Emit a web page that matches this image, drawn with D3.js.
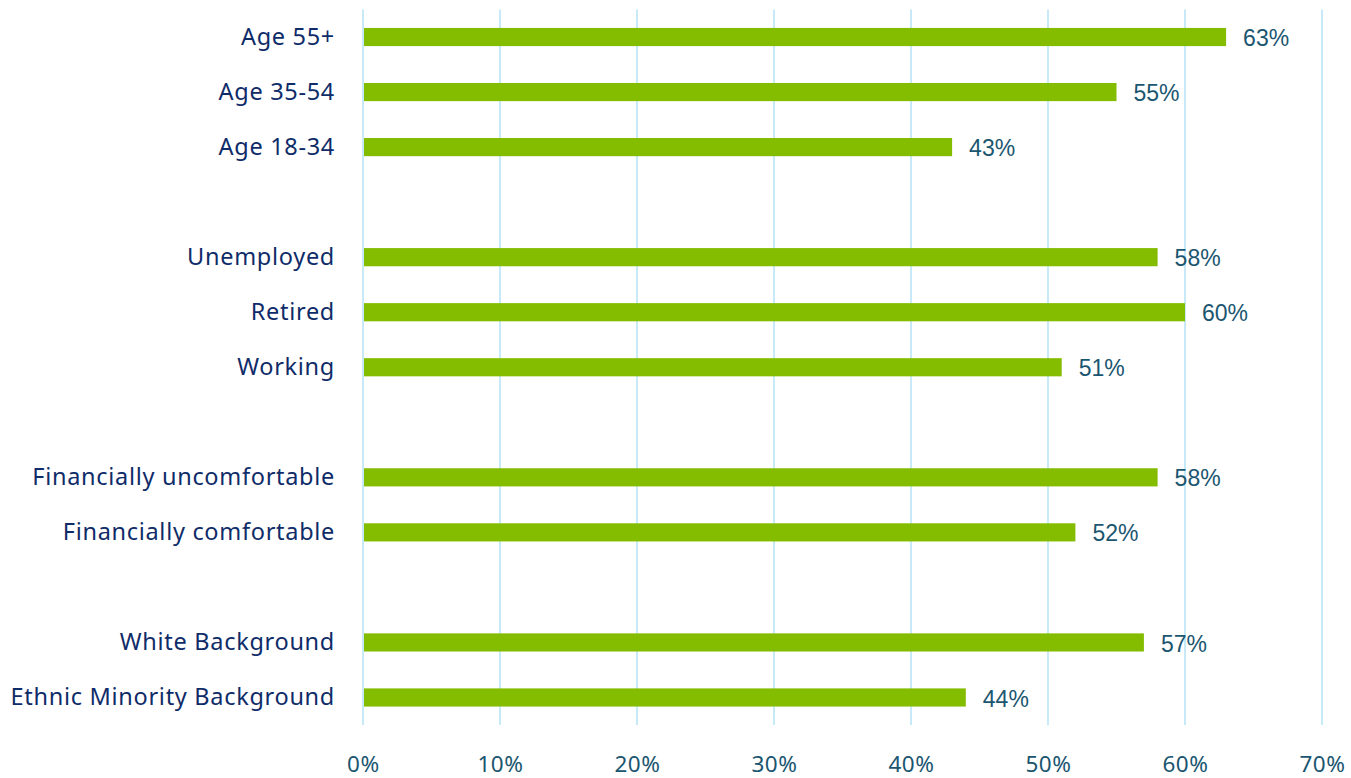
<!DOCTYPE html>
<html>
<head>
<meta charset="utf-8">
<script src="https://cdn.jsdelivr.net/npm/d3@7/dist/d3.min.js"></script>
<style>
  html, body { margin: 0; padding: 0; background: #fff; }
  svg { display: block; }
</style>
</head>
<body>
<svg id="chart" width="1351" height="778"></svg>
<script>
// Row labels, top to bottom; empty strings are spacer rows between groups
const categories = [
  "Age 55+", "Age 35-54", "Age 18-34", "",
  "Unemployed", "Retired", "Working", "",
  "Financially uncomfortable", "Financially comfortable", "",
  "White Background", "Ethnic Minority Background"
];
const values = [63, 55, 43, null, 58, 60, 51, null, 58, 52, null, 57, 44];
const tickValues = [0, 10, 20, 30, 40, 50, 60, 70];

const svg = d3.select("#chart");
const margin = { top: 9.5, left: 363, right: 29, bottom: 53 };
const W = 1351, H = 778;

const x = d3.scaleLinear().domain([0, 70]).range([margin.left, W - margin.right]);
const keys = categories.map((c, i) => i);
const y = d3.scaleBand().domain(keys).range([margin.top, H - margin.bottom]).paddingInner(0.67).paddingOuter(0.335);

// vertical gridlines
svg.append("g")
  .selectAll("line")
  .data(tickValues)
  .join("line")
  .attr("x1", d => x(d)).attr("x2", d => x(d))
  .attr("y1", margin.top).attr("y2", H - margin.bottom)
  .attr("stroke", "#c8eaf8").attr("stroke-width", 2);

// bottom axis tick labels
const xAxis = d3.axisBottom(x).tickValues(tickValues).tickFormat(d => d + "%").tickSize(0).tickPadding(0);
const gx = svg.append("g").attr("transform", `translate(0, ${H - 6})`).call(xAxis);
gx.select(".domain").remove();
gx.selectAll("text")
  .attr("dy", 0)
  .attr("font-family", "'Noto Sans', sans-serif")
  .attr("font-size", 22.5)
  .attr("letter-spacing", 0.6)
  .attr("fill", "#1b5670");

const rows = categories.map((c, i) => ({ key: i, label: c, value: values[i] }));

// bars
svg.append("g")
  .selectAll("rect")
  .data(rows.filter(r => r.value !== null))
  .join("rect")
  .attr("x", x(0) + 1)
  .attr("y", d => y(d.key))
  .attr("width", d => x(d.value) - x(0) - 1)
  .attr("height", y.bandwidth())
  .attr("fill", "#84bc00");

// value labels
svg.append("g")
  .selectAll("text")
  .data(rows.filter(r => r.value !== null))
  .join("text")
  .attr("x", d => x(d.value) + 17)
  .attr("y", d => y(d.key) + y.bandwidth() / 2 + 3)
  .attr("dominant-baseline", "middle")
  .attr("font-family", "'Liberation Sans', Arial, sans-serif")
  .attr("font-size", 23)
  .attr("fill", "#1b5670")
  .text(d => d.value + "%");

// category labels
svg.append("g")
  .selectAll("text")
  .data(rows.filter(r => r.label !== ""))
  .join("text")
  .attr("x", x(0) - 28)
  .attr("y", d => y(d.key) + y.bandwidth() / 2 + 1.5)
  .attr("dominant-baseline", "middle")
  .attr("text-anchor", "end")
  .attr("font-family", "'Noto Sans', sans-serif")
  .attr("font-size", 23.5)
  .attr("letter-spacing", 0.7)
  .attr("fill", "#0f2c69")
  .text(d => d.label);
</script>
</body>
</html>
